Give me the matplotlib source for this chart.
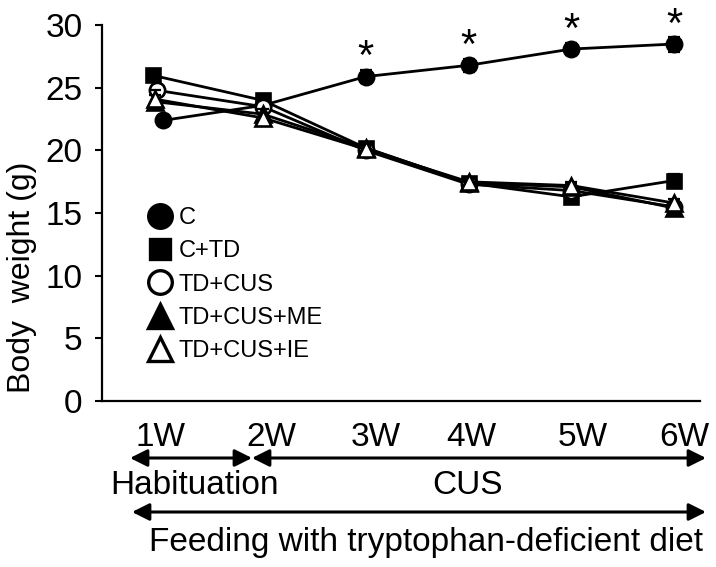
import numpy as np
import matplotlib
matplotlib.use("Agg")
from matplotlib import pyplot as plt

plt.rcParams['font.family'] = ['Liberation Sans', 'DejaVu Sans']

weeks = ['1W', '2W', '3W', '4W', '5W', '6W']
groups = ['C', 'C+TD', 'TD+CUS', 'TD+CUS+ME', 'TD+CUS+IE']

# body weight (g), mean and error per week
c_mean = [22.4, 23.6, 25.9, 26.8, 28.1, 28.5]
c_err = [0.3, 0.9, 0.5, 0.5, 0.5, 0.6]
ctd_mean = [26.0, 24.0, 20.2, 17.4, 16.3, 17.6]
ctd_err = [0.3, 0.4, 0.3, 0.3, 0.3, 0.5]
tdcus_mean = [24.8, 23.5, 20.0, 17.3, 16.8, 15.5]
tdcus_err = [0.4, 0.4, 0.3, 0.3, 0.3, 0.3]
me_mean = [23.9, 22.9, 20.2, 17.4, 17.1, 15.4]
me_err = [0.5, 0.4, 0.3, 0.3, 0.3, 0.3]
ie_mean = [24.1, 22.6, 20.1, 17.5, 17.2, 15.8]
ie_err = [0.7, 0.4, 0.3, 0.3, 0.3, 0.3]

star_weeks = ['3W', '4W', '5W', '6W']

fig = plt.figure(figsize=(7.16, 5.67), dpi=100)
ax = fig.add_axes([0.1425, 0.2928, 0.8355, 0.6627])

x = np.arange(1, len(weeks) + 1)
series = [
    (c_mean, c_err, 'o', 'black', 0.03),
    (ctd_mean, ctd_err, 's', 'black', -0.07),
    (tdcus_mean, tdcus_err, 'o', 'white', -0.03),
    (me_mean, me_err, '^', 'black', -0.05),
    (ie_mean, ie_err, '^', 'white', -0.05),
]
for i, (m, e, mk, fc, dx) in enumerate(series):
    xs = x.astype(float).copy()
    xs[0] += dx
    ax.errorbar(xs, m, yerr=e, fmt='none', ecolor='black', elinewidth=1.6,
                capsize=4, capthick=1.6, zorder=2 + i)
    ax.plot(xs, m, '-', color='black', lw=2.0, zorder=2 + i)
    ms = 11 if mk != 's' else 9.5
    ax.plot(xs, m, linestyle='none', marker=mk, ms=ms, mfc=fc,
            mec='black', mew=1.9, zorder=3 + i)

# significance stars above C
for w in star_weeks:
    k = weeks.index(w)
    ax.text(x[k], c_mean[k] + 0.6, '*', ha='center', va='baseline',
            fontsize=30, clip_on=False)

ax.set_xlim(0.436, 6.253)
ax.set_ylim(0, 30)
ax.set_yticks(np.arange(0, 31, 5))
ax.tick_params(axis='y', direction='out', length=5, width=1.5, labelsize=24, pad=9)
ax.set_xticks([])
ax.spines['top'].set_visible(False)
ax.spines['right'].set_visible(False)
ax.spines['left'].set_linewidth(1.6)
ax.spines['bottom'].set_linewidth(1.6)
ax.set_ylabel('Body  weight (g)', fontsize=23)
ax.yaxis.set_label_coords(-0.108, 0.33)

# legend
leg_handles = []
for (m, e, mk, fc, dx) in series:
    h, = ax.plot([], [], linestyle='none', marker=mk, ms=17 if mk != 's' else 15,
                 mfc=fc, mec='black', mew=2.4)
    leg_handles.append(h)
ax.legend(leg_handles, groups, loc='lower left', bbox_to_anchor=(0.065, 0.078),
          frameon=False, fontsize=17, handlelength=0.8, handletextpad=0.4,
          labelspacing=0.48, borderaxespad=0)

# week labels under the axis
label_dx = [0, 6, 7, 2, 8, 7]
for k, w in enumerate(weeks):
    ax.annotate(w, xy=(x[k], 0), xycoords='data', xytext=(label_dx[k], -26),
                textcoords='offset points', ha='center', va='center',
                fontsize=24, annotation_clip=False)


def px(xp, yp):
    return (xp / 716.0, 1 - yp / 567.0)


arrow_kw = dict(arrowstyle='<|-|>', color='black', lw=2.2, mutation_scale=26,
                shrinkA=0, shrinkB=0)
fig.patches.append(matplotlib.patches.FancyArrowPatch(px(130, 458), px(252, 458),
                   transform=fig.transFigure, **arrow_kw))
fig.patches.append(matplotlib.patches.FancyArrowPatch(px(252, 458), px(706, 458),
                   transform=fig.transFigure, **arrow_kw))
fig.patches.append(matplotlib.patches.FancyArrowPatch(px(132, 512), px(706, 512),
                   transform=fig.transFigure, **arrow_kw))

fig.text(*px(195, 485), 'Habituation', ha='center', va='center', fontsize=24)
fig.text(*px(468, 485), 'CUS', ha='center', va='center', fontsize=24)
fig.text(*px(426, 542), 'Feeding with tryptophan-deficient diet', ha='center',
         va='center', fontsize=24)

fig.savefig('out.png', dpi=100)
plt.close(fig)
